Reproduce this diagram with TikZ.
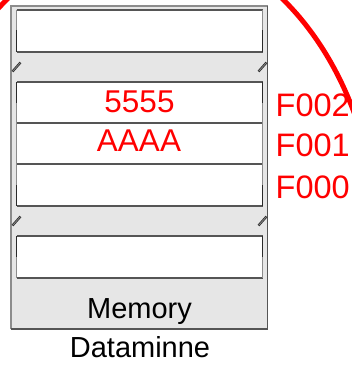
\documentclass[tikz,border=0pt]{standalone}
\usepackage{fontspec}
\setmainfont{Liberation Sans}
\definecolor{boxgray}{HTML}{E6E6E6}
\definecolor{linegray}{HTML}{555555}
\definecolor{edgegray}{HTML}{8C8C8C}
\definecolor{darkedge}{HTML}{2A2A2A}
\begin{document}
\begin{tikzpicture}[x=1pt,y=-1pt,
  rowline/.style={draw=linegray, line width=1.3pt},
  lightedge/.style={draw=edgegray, line width=1.3pt},
  darkseg/.style={draw=darkedge, line width=1.8pt},
  breakmark/.style={draw=darkedge, line width=0.8pt, double=edgegray, double distance=0.7pt},
  redtxt/.style={text=red, inner sep=0pt, font=\fontsize{31.5}{36}\selectfont},
  addrtxt/.style={text=red, inner sep=0pt, font=\fontsize{32.5}{38}\selectfont},
  blacktxt/.style={text=black, inner sep=0pt, font=\fontsize{29}{34}\selectfont}]
\useasboundingbox (0,0) rectangle (352,365);
% outer box
\fill[boxgray] (11,6) rectangle (267.5,329);
\draw[draw=edgegray, line width=1.5pt] (11,329) -- (11,6) -- (267.5,6);
\draw[draw=darkedge!80, line width=1.6pt] (267.5,6) -- (267.5,329) -- (11,329);
% white rows
\fill[white] (16.5,10) rectangle (262.5,52);
\fill[white] (16.5,82) rectangle (262.5,206);
\fill[white] (16.5,236) rectangle (262.5,278);
% horizontal row lines
\foreach \yy in {10,52,82,123,164,206,236,278}
  \draw[rowline] (16.5,\yy) -- (262.5,\yy);
% vertical column edges
\foreach \xx in {16.5,262.5}{
  \draw[lightedge] (\xx,10) -- (\xx,52);
  \draw[lightedge] (\xx,82) -- (\xx,206);
  \draw[lightedge] (\xx,236) -- (\xx,278);
  \draw[darkseg] (\xx,30) -- (\xx,52);
  \draw[darkseg] (\xx,82) -- (\xx,103);
  \draw[darkseg] (\xx,185) -- (\xx,206);
  \draw[darkseg] (\xx,236) -- (\xx,257);
  \draw[breakmark] (\xx-4,71.5) -- (\xx+4,62.5);
  \draw[breakmark] (\xx-4,225.5) -- (\xx+4,216.5);
}
% texts
\node[redtxt, anchor=base] (v5555) at (139.5,112.5) {5555};
\node[redtxt, anchor=base] (vAAAA) at (139,151.5) {AAAA};
\node[addrtxt, anchor=base west] (aF002) at (275.5,116.5) {F002};
\node[addrtxt, anchor=base west] (aF001) at (275.5,156) {F001};
\node[addrtxt, anchor=base west] (aF000) at (275.5,198) {F000};
\node[blacktxt, anchor=base] (mem) at (139.5,318) {Memory};
\node[blacktxt, anchor=base] (dm) at (140,357.5) {Dataminne};
% red highlight
\begin{scope}
\clip (0,0) rectangle (352,365);
\draw[red, line width=5pt] (145,250) ellipse[x radius=233, y radius=311];
\end{scope}
\end{tikzpicture}
\end{document}
